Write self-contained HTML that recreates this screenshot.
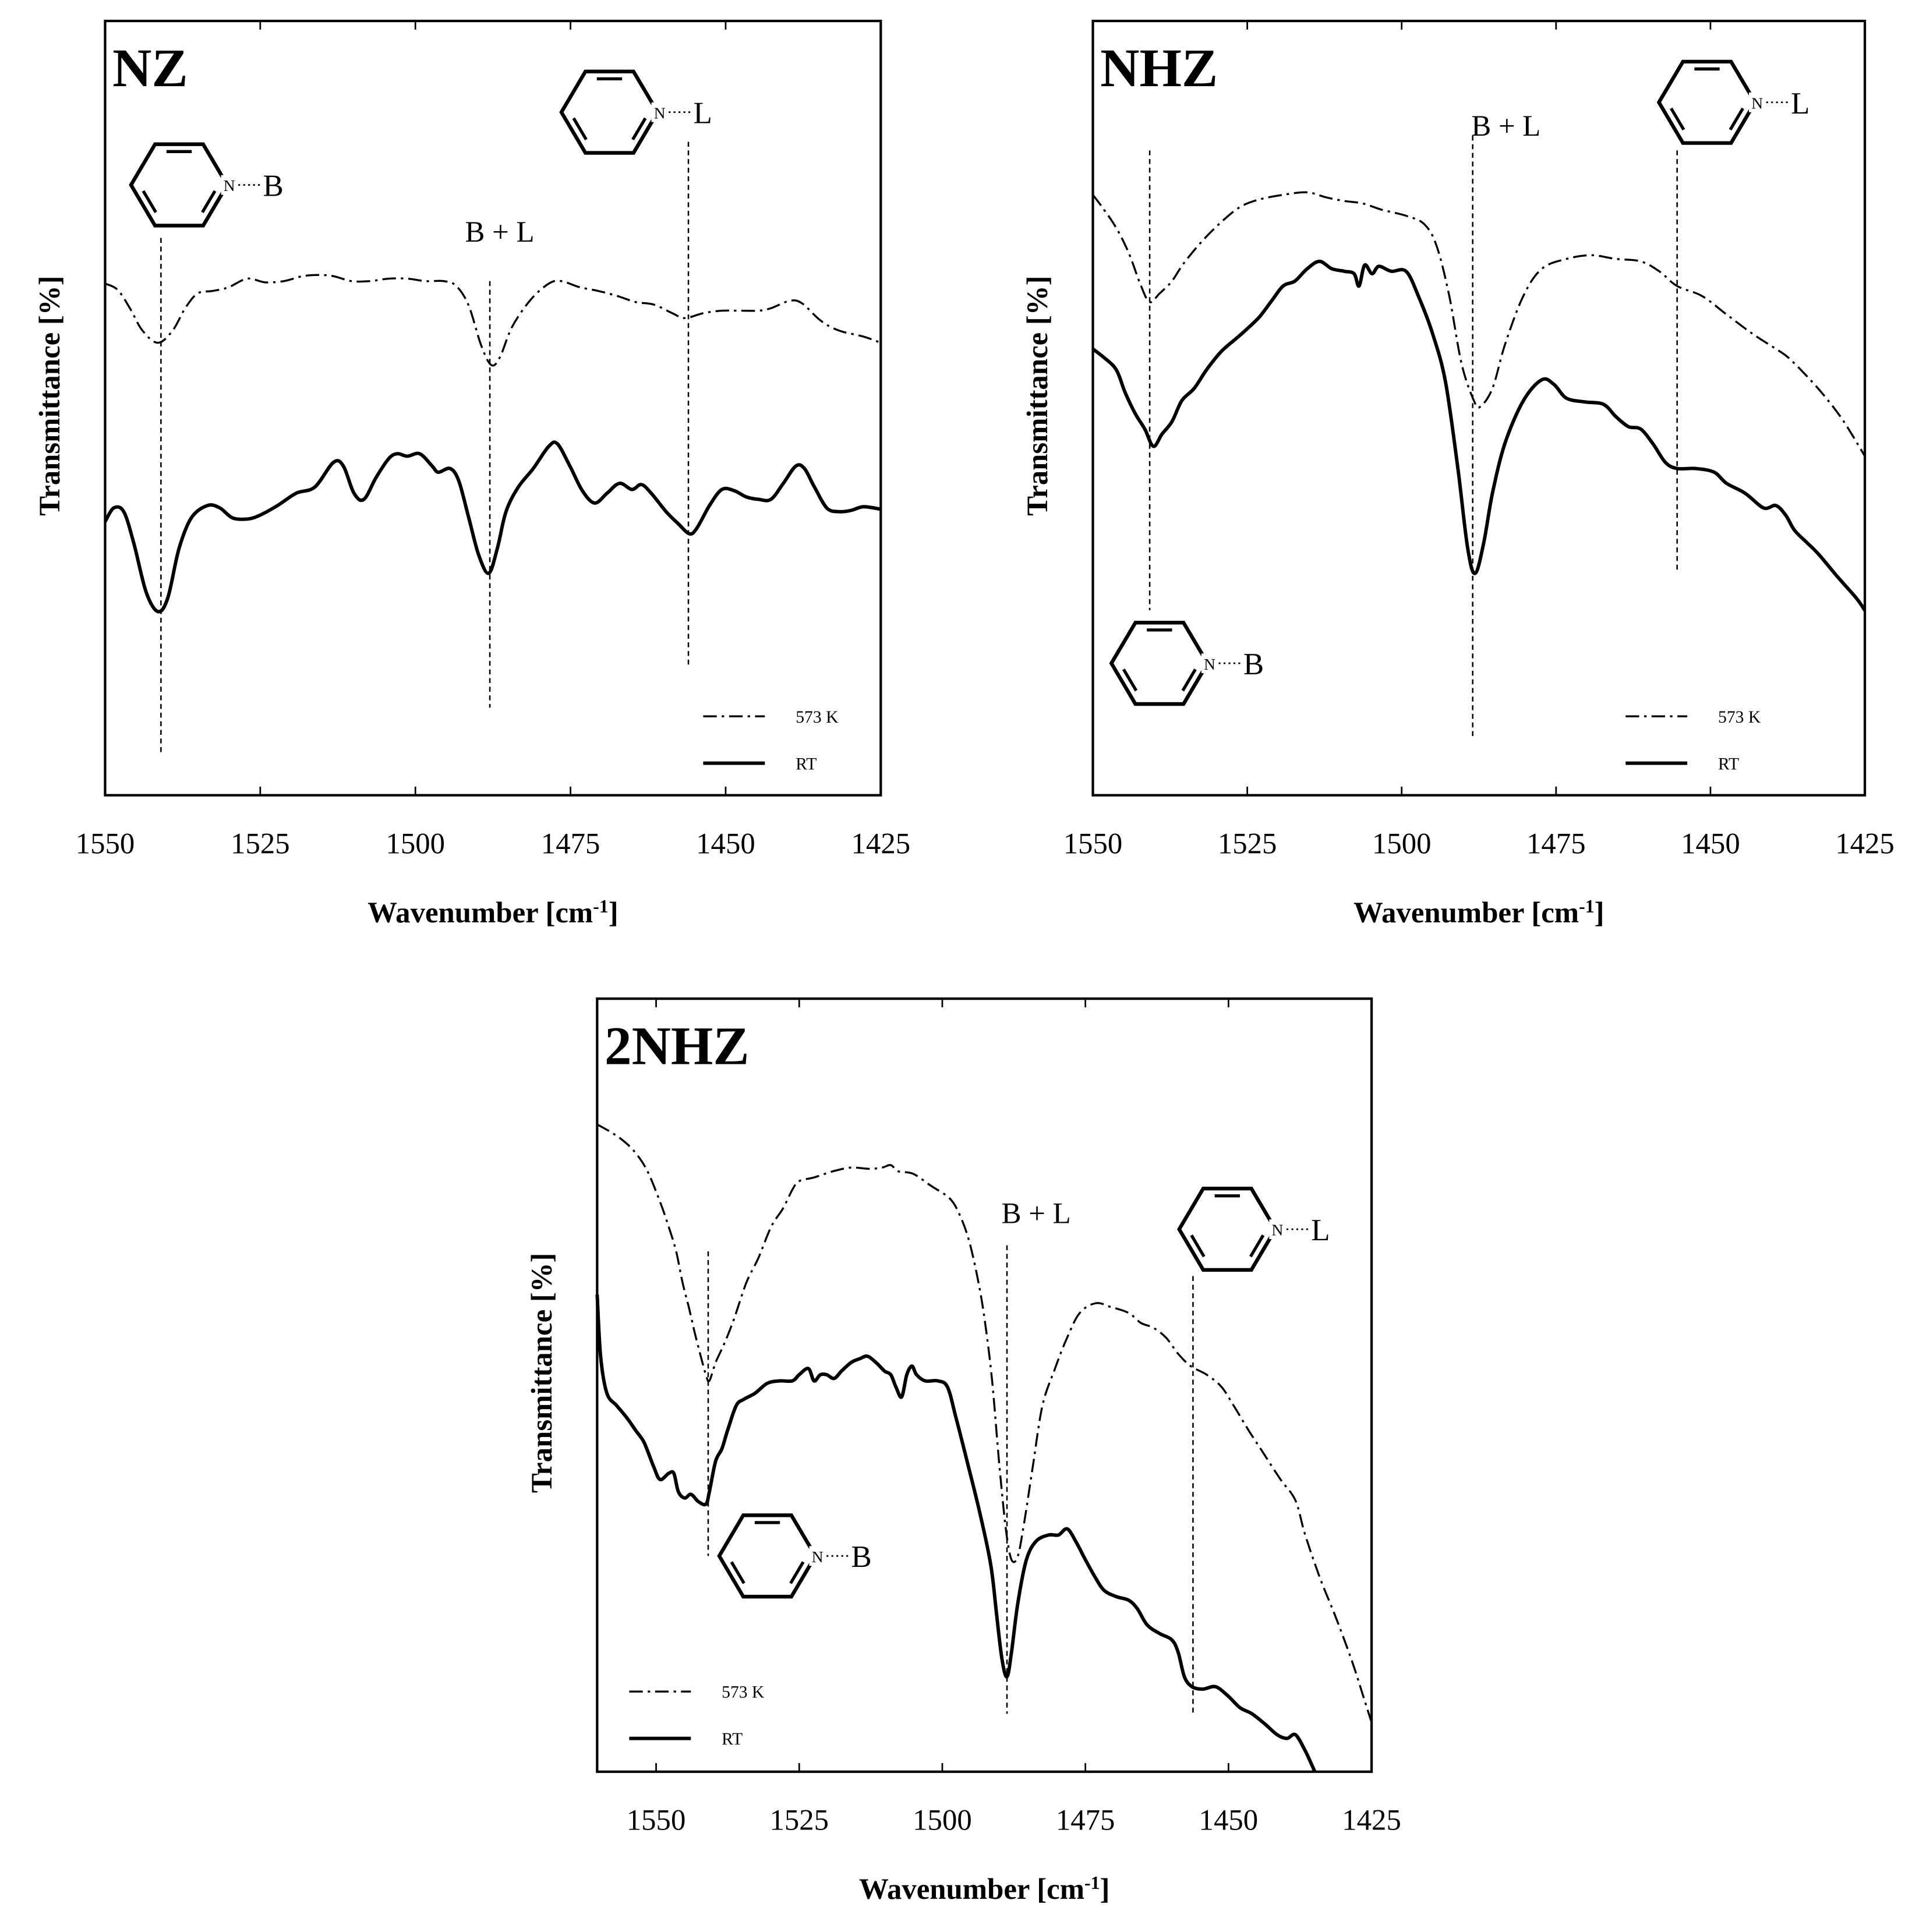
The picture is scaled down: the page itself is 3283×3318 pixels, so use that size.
<!DOCTYPE html>
<html>
<head>
<meta charset="utf-8">
<style>
html,body{margin:0;padding:0;background:#fff;}
svg{display:block;}
text{font-family:"Liberation Serif",serif;fill:#000;}
</style>
</head>
<body>
<svg id="fig" xmlns="http://www.w3.org/2000/svg" width="3283" height="3318" viewBox="0 0 1550 1567"></svg>
<script>
// ---------- Data (wavenumber cm-1, transmittance in arbitrary units) ----------
const ticks = [1550, 1525, 1500, 1475, 1450, 1425];

const nzRtX = [1550,1548.6,1547.0,1545.4,1543.4,1541.5,1539.9,1538.1,1536.1,1533.5,1531.5,1529.5,1527.1,1525.1,1522.2,1519.2,1516.2,1513.2,1511.6,1509.9,1508.3,1506.3,1504.3,1502.9,1501.3,1499.3,1497.3,1496.3,1494.4,1493.0,1491.4,1489.8,1488.2,1486.8,1485.4,1483.4,1481.0,1478.5,1477.1,1475.1,1473.1,1471.1,1469.1,1467.1,1465.1,1463.6,1462.0,1459.6,1457.6,1455.8,1454.6,1452.6,1450.6,1448.6,1446.7,1444.7,1442.7,1440.7,1438.7,1437.3,1435.7,1433.7,1431.8,1429.8,1427.8,1425];
const nzRtY = [222,233,230,205,165,149,160,200,225,235,233,225,224,227,235,245,250,270,267,245,240,258,273,277,275,277,267,262,265,255,225,195,180,200,230,250,265,283,285,267,247,237,245,253,248,252,245,230,220,212,217,235,248,247,242,240,240,253,267,265,250,233,230,231,234,232];
const nzHtX = [1550,1548.0,1546.0,1544.0,1541.5,1539.1,1537.1,1535.1,1532.7,1530.1,1527.1,1524.2,1521.2,1518.2,1515.6,1513.2,1510.3,1507.3,1504.3,1501.3,1498.3,1495.4,1493.4,1491.4,1489.4,1487.8,1486.4,1484.4,1481.4,1478.5,1476.5,1473.5,1470.5,1467.5,1464.5,1461.6,1458.6,1456.6,1453.6,1450.6,1447.7,1444.7,1442.7,1439.7,1437.7,1434.7,1431.8,1427.8,1425];
const nzHtY = [415,410,395,377,367,377,395,407,409,412,419,416,417,421,422,421,417,417,419,419,417,417,413,397,365,349,355,380,402,415,417,412,409,405,400,398,391,387,391,393,393,393,395,401,399,385,377,372,367];

const nhzRtX = [1550,1548.2,1546.2,1544.8,1543.2,1541.6,1540.2,1538.8,1537.2,1535.6,1533.6,1531.6,1529.2,1526.2,1523.2,1521.2,1519.2,1517.3,1515.3,1513.3,1511.3,1509.3,1507.7,1506.9,1506.0,1504.8,1503.7,1501.7,1499.3,1497.3,1494.9,1492.9,1490.9,1489.3,1488.1,1486.7,1485.3,1483.3,1480.3,1477.3,1475.3,1473.3,1470.3,1467.3,1465.3,1463.3,1461.3,1459.3,1457.3,1455.4,1452.4,1449.4,1447.4,1444.4,1441.4,1439.4,1437.8,1436.4,1434.4,1432.4,1429.4,1426.4,1425];
const nhzRtY = [362,355,345,327,310,297,283,293,303,320,330,345,360,373,387,400,413,417,427,433,427,425,423,413,430,423,429,425,425,405,373,335,265,200,180,205,245,285,320,337,333,322,319,317,307,299,297,285,270,265,265,262,253,245,233,235,227,215,205,195,177,160,150];
const nhzHtX = [1550,1548.2,1546.2,1544.2,1542.2,1540.8,1539.2,1537.2,1535.2,1532.2,1529.2,1526.2,1523.2,1519.2,1515.3,1512.3,1509.3,1506.3,1503.3,1499.3,1496.3,1494.3,1492.3,1490.3,1488.3,1487.3,1485.3,1483.3,1480.3,1477.3,1473.3,1469.3,1465.3,1461.3,1458.3,1455.4,1451.4,1447.4,1443.4,1439.4,1437.4,1434.4,1431.4,1428.4,1425];
const nhzHtY = [487,475,460,440,413,400,407,417,432,450,465,477,483,487,489,485,482,480,475,470,463,445,405,350,320,315,330,365,405,427,435,438,435,433,425,413,405,390,375,362,355,340,323,303,275];

const n2RtX = [1560.3,1559.7,1558.6,1556.9,1555.1,1553.6,1552.1,1550.4,1549.3,1547.8,1546.9,1546.1,1545.0,1543.9,1542.6,1541.3,1540.7,1539.6,1538.5,1537.5,1536.0,1534.7,1532.7,1530.6,1528.4,1526.2,1525.0,1523.4,1522.4,1521.3,1520.2,1518.9,1517.6,1515.9,1514.4,1513.1,1511.6,1510.1,1509.0,1508.1,1507.1,1506.2,1505.3,1504.5,1503.0,1500.8,1499.1,1497.6,1495.4,1493.3,1491.5,1490.5,1489.6,1488.7,1487.9,1486.8,1485.3,1483.6,1481.4,1479.7,1478.2,1476.7,1475.0,1473.2,1471.7,1469.6,1467.4,1465.9,1464.2,1462.0,1459.9,1458.8,1457.7,1456.4,1454.5,1452.3,1450.2,1448.0,1445.9,1443.7,1441.5,1439.8,1438.3,1436.6,1434.9];
const n2RtY = [387,337,307,297,287,277,267,247,237,242,242,227,222,225,219,217,227,252,262,277,297,302,307,315,317,317,322,327,317,322,322,319,325,332,335,337,332,325,322,312,304,322,329,322,317,317,312,287,247,207,167,127,92,77,97,137,172,187,192,192,197,187,172,157,147,142,139,132,119,112,107,97,77,69,67,69,62,52,47,39,30,27,30,17,0];
const n2HtX = [1560.3,1558.0,1555.8,1553.6,1551.5,1549.3,1547.8,1546.5,1545.4,1544.3,1543.3,1542.2,1541.3,1540.7,1539.6,1538.1,1536.4,1534.2,1532.1,1529.9,1527.8,1526.2,1525.0,1522.4,1519.1,1515.9,1512.7,1510.5,1509.0,1507.7,1505.1,1501.9,1498.7,1497.0,1495.4,1493.9,1492.6,1491.3,1490.0,1488.9,1487.9,1486.8,1485.7,1484.2,1482.5,1480.3,1478.2,1476.0,1473.2,1470.6,1467.4,1465.3,1463.1,1460.9,1458.8,1456.6,1453.8,1451.2,1449.1,1446.5,1443.7,1440.9,1438.3,1436.6,1434.0,1431.4,1428.6,1426.5,1425.0];
const n2HtY = [525,519,512,502,487,462,442,422,397,377,357,337,322,317,332,347,367,397,417,442,457,472,479,482,487,490,489,490,492,487,485,475,465,452,432,402,367,317,247,197,172,175,202,247,297,327,352,372,380,377,372,364,360,352,339,329,322,312,297,277,257,237,220,192,157,127,92,62,40];

const nzBands = [1541, 1488, 1456];
const nhzBands = [1540.8, 1488.5, 1455.4];
const n2Bands = [1540.9, 1488.7, 1456.2];

// ---------- Drawing ----------
const NS = "http://www.w3.org/2000/svg";
const fig = document.getElementById('fig');
function el(tag, attrs, parent, txt){
  const e = document.createElementNS(NS, tag);
  for (const k in attrs) e.setAttribute(k, attrs[k]);
  if (txt !== undefined) e.textContent = txt;
  (parent || fig).appendChild(e);
  return e;
}
function smoothPath(P){
  let d = 'M' + P[0][0].toFixed(1) + ',' + P[0][1].toFixed(1);
  for (let i = 0; i < P.length - 1; i++){
    const p0 = P[i-1] || P[i], p1 = P[i], p2 = P[i+1], p3 = P[i+2] || P[i+1];
    const c1x = p1[0] + (p2[0]-p0[0])/6, c1y = p1[1] + (p2[1]-p0[1])/6;
    const c2x = p2[0] - (p3[0]-p1[0])/6, c2y = p2[1] - (p3[1]-p1[1])/6;
    d += 'C' + c1x.toFixed(1) + ',' + c1y.toFixed(1) + ' ' + c2x.toFixed(1) + ',' + c2y.toFixed(1) + ' ' + p2[0].toFixed(1) + ',' + p2[1].toFixed(1);
  }
  return d;
}

function panel(cfg){
  const g = el('g', {});
  
  
  const L = cfg.left, R = cfg.right, T = cfg.top, B = cfg.bottom;
  const xs = w => L + (cfg.wmax - w) / (cfg.wmax - cfg.wmin) * (R - L);
  const ys = v => B - v;
  ticks.forEach(t => {
    const x = xs(t);
    el('line', {x1:x, x2:x, y1:B, y2:B-7, stroke:'#000', 'stroke-width':1.3}, g);
    el('line', {x1:x, x2:x, y1:T, y2:T+7, stroke:'#000', 'stroke-width':1.3}, g);
    const tl = el('text', {x:x, y:B+47, 'text-anchor':'middle', 'font-size':24}, g, String(t));
    
    
  });
  cfg.bands.forEach((b, i) => {
    const ln = el('line', {x1:xs(b), x2:xs(b), y1:cfg.bandY[i][0], y2:cfg.bandY[i][1], stroke:'#000', 'stroke-width':1.2, 'stroke-dasharray':'4 3'}, g);
    
    
  });
  function series(X, Y, dash, w, nm){
    const P = X.map((x, i) => [xs(x), ys(Y[i])]);
    const p = el('path', {d:smoothPath(P), fill:'none', stroke:'#000', 'stroke-width':w, 'stroke-linejoin':'round'}, g);
    if (dash) p.setAttribute('stroke-dasharray', dash);
    
    
  }
  series(cfg.htX, cfg.htY, '11 4 2 4', 1.6, cfg.name + '-573k-line');
  series(cfg.rtX, cfg.rtY, null, 2.8, cfg.name + '-rt-line');
  const fr = el('rect', {x:L, y:T, width:R-L, height:B-T, fill:'none', stroke:'#000', 'stroke-width':2}, g);
  
  
  const tt = el('text', {x:L+6, y:T+53, 'font-size':44, 'font-weight':'bold'}, g, cfg.title);
  
  
  const xt = el('text', {x:(L+R)/2, y:B+103, 'text-anchor':'middle', 'font-size':24, 'font-weight':'bold'}, g);
  
  
  xt.appendChild(document.createTextNode('Wavenumber [cm'));
  el('tspan', {dy:-8, 'font-size':15}, xt, '-1');
  el('tspan', {dy:8}, xt, ']');
  const yt = el('text', {x:0, y:0, transform:'translate(' + (L-37) + ',' + ((T+B)/2 - 10) + ') rotate(-90)', 'text-anchor':'middle', 'font-size':24, 'font-weight':'bold'}, g, 'Transmittance [%]');
  
  
  const lg = el('g', {}, g);
  
  
  const [lx, ly] = cfg.legend;
  el('line', {x1:lx, x2:lx+50, y1:ly, y2:ly, stroke:'#000', 'stroke-width':1.6, 'stroke-dasharray':'11 4 2 4'}, lg);
  el('text', {x:lx+75, y:ly+5, 'font-size':14}, lg, '573 K');
  el('line', {x1:lx, x2:lx+50, y1:ly+38, y2:ly+38, stroke:'#000', 'stroke-width':2.8}, lg);
  el('text', {x:lx+75, y:ly+43, 'font-size':14}, lg, 'RT');
  cfg.pyr.forEach(p => pyridine(g, p[0], p[1], p[2]));
  const bl = el('text', {x:cfg.bl[0], y:cfg.bl[1], 'text-anchor':'middle', 'font-size':24}, g, 'B + L');
  
  
}

function pyridine(parent, cx, cy, lab){
  const g = el('g', {}, parent);
  
  
  const hw = 39, hh = 33;
  const v = [[cx-hw,cy],[cx-hw/2,cy-hh],[cx+hw/2,cy-hh],[cx+hw,cy],[cx+hw/2,cy+hh],[cx-hw/2,cy+hh]];
  const pts = v.map(p => p.join(',')).join(' ');
  el('polygon', {points:pts, fill:'none', stroke:'#000', 'stroke-width':3, 'stroke-linejoin':'miter'}, g);
  const inner = (a, b) => {
    const k = 0.82, s = 0.18;
    const ax = cx + (a[0]-cx)*k, ay = cy + (a[1]-cy)*k, bx = cx + (b[0]-cx)*k, by = cy + (b[1]-cy)*k;
    el('line', {x1:ax+(bx-ax)*s, y1:ay+(by-ay)*s, x2:bx-(bx-ax)*s, y2:by-(by-ay)*s, stroke:'#000', 'stroke-width':2.5}, g);
  };
  inner(v[1], v[2]); inner(v[5], v[0]); inner(v[3], v[4]);
  el('rect', {x:cx+hw-5, y:cy-8, width:14, height:16, fill:'#fff'}, g);
  el('text', {x:cx+hw-3, y:cy+5, 'font-size':13}, g, 'N');
  el('line', {x1:cx+hw+9, x2:cx+hw+28, y1:cy, y2:cy, stroke:'#000', 'stroke-width':1.3, 'stroke-dasharray':'1.5 2.5'}, g);
  el('text', {x:cx+hw+29, y:cy+9, 'font-size':25}, g, lab);
}

panel({name:'nz', title:'NZ', left:85, right:714, top:17, bottom:645, wmax:1550, wmin:1425,
  rtX:nzRtX, rtY:nzRtY, htX:nzHtX, htY:nzHtY, bands:nzBands,
  bandY:[[193,612],[228,574],[115,540]], legend:[570,581],
  pyr:[[145,150,'B'],[494,91,'L']], bl:[405,196]});
panel({name:'nhz', title:'NHZ', left:886, right:1512, top:17, bottom:645, wmax:1550, wmin:1425,
  rtX:nhzRtX, rtY:nhzRtY, htX:nhzHtX, htY:nhzHtY, bands:nhzBands,
  bandY:[[122,495],[110,600],[122,465]], legend:[1318,581],
  pyr:[[1384,83,'L'],[940,538,'B']], bl:[1221,110]});
panel({name:'2nhz', title:'2NHZ', left:484, right:1112, top:810, bottom:1437, wmax:1560.3, wmin:1425,
  rtX:n2RtX, rtY:n2RtY, htX:n2HtX, htY:n2HtY, bands:n2Bands,
  bandY:[[1015,1262],[1010,1390],[1035,1390]], legend:[510,1372],
  pyr:[[622,1262,'B'],[995,997,'L']], bl:[840,992]});
</script>
</body>
</html>
